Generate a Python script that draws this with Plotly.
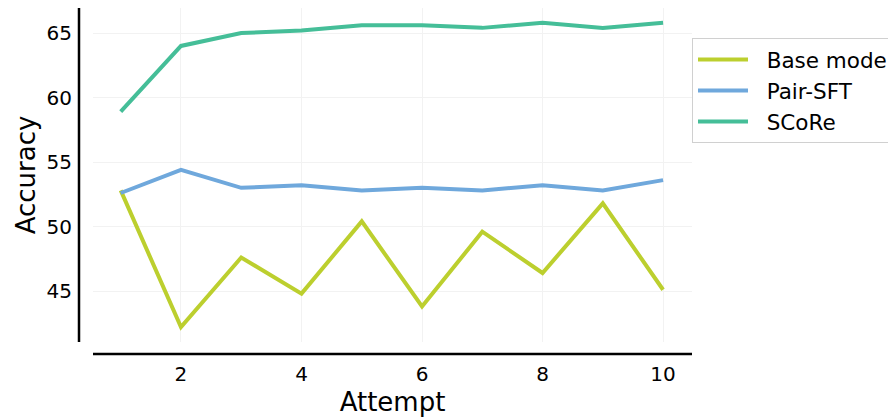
import plotly.graph_objects as go

attempts = [1, 2, 3, 4, 5, 6, 7, 8, 9, 10]
base_model = [52.8, 42.2, 47.6, 44.8, 50.4, 43.8, 49.6, 46.4, 51.8, 45.1]
pair_sft = [52.6, 54.4, 53.0, 53.2, 52.8, 53.0, 52.8, 53.2, 52.8, 53.6]
score = [58.9, 64.0, 65.0, 65.2, 65.6, 65.6, 65.4, 65.8, 65.4, 65.8]
series_names = ["Base model", "Pair-SFT", "SCoRe"]
x_ticks = [2, 4, 6, 8, 10]
y_ticks = [45, 50, 55, 60, 65]

colors = ["#bccf2e", "#6fa8dc", "#45be98"]
font = "DejaVu Sans"

fig = go.Figure()
for name, vals, c in zip(series_names, [base_model, pair_sft, score], colors):
    fig.add_trace(go.Scatter(x=attempts, y=vals, mode="lines",
                             name="\u00a0\u00a0" + name,
                             line=dict(color=c, width=4)))

W, H = 888, 417
L, R, T, B = 93, 692, 8, 342
fig.update_layout(
    width=W, height=H,
    margin=dict(l=L, r=W - R, t=T, b=H - B, pad=0, autoexpand=False),
    paper_bgcolor="white", plot_bgcolor="white",
    font=dict(family=font, size=20, color="black"),
    showlegend=True,
    legend=dict(x=1.0, xanchor="left", y=(B - 38) / (B - T), yanchor="top",
                bordercolor="#d0d0d0", borderwidth=1, bgcolor="white",
                font=dict(family=font, size=21.5), tracegroupgap=0,
                itemwidth=50),
    xaxis=dict(range=[0.54, 10.48], tickvals=x_ticks, showgrid=True,
               gridcolor="#f2f2f2", gridwidth=1, zeroline=False, showline=False,
               ticks="", ticklabelstandoff=18,
               title=dict(text="Attempt", font=dict(size=26), standoff=8),
               tickfont=dict(size=20)),
    yaxis=dict(range=[41.05, 66.94], tickvals=y_ticks, showgrid=True,
               gridcolor="#f2f2f2", gridwidth=1, zeroline=False, showline=False,
               ticks="", ticklabelstandoff=20,
               title=dict(text="Accuracy", font=dict(size=26), standoff=3),
               tickfont=dict(size=20)),
)

# offset spines
pw = R - L
ph = B - T
fig.add_shape(type="line", xref="paper", yref="paper",
              x0=(79 - L) / pw, x1=(79 - L) / pw, y0=0, y1=1,
              line=dict(color="black", width=2.5))
fig.add_shape(type="line", xref="paper", yref="paper",
              x0=0, x1=1, y0=-(354 - B) / ph, y1=-(354 - B) / ph,
              line=dict(color="black", width=2.5))

fig.write_html("out.html", config={"displayModeBar": False},
               post_script="document.body.style.margin='0';document.body.style.overflow='hidden';")
